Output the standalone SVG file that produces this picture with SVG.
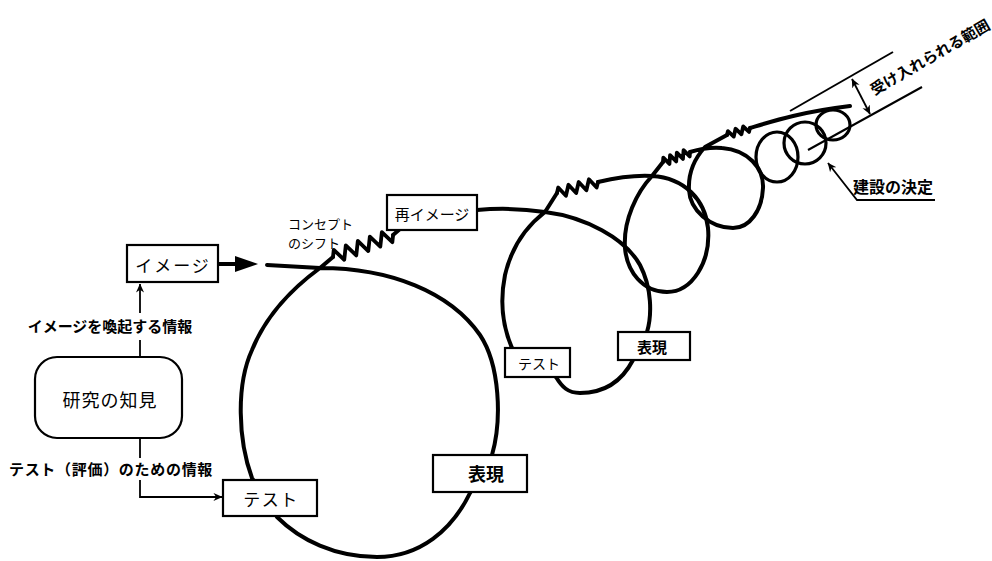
<svg xmlns="http://www.w3.org/2000/svg" width="992" height="561" viewBox="0 0 992 561">
<style>
.loop{fill:none;stroke:#000;stroke-width:4;stroke-linecap:round;stroke-linejoin:round}
.loopsm{fill:none;stroke:#000;stroke-width:3.2;stroke-linecap:round}
.spring{fill:none;stroke:#000;stroke-width:3.8;stroke-linejoin:round;stroke-linecap:round}
.box{fill:#fff;stroke:#000;stroke-width:2.2}
.thin{fill:none;stroke:#000;stroke-width:1.8}
text{font-family:"Noto Sans CJK JP","Noto Sans CJK SC",sans-serif;fill:#000;dominant-baseline:central}
.b{font-weight:700}
.c{text-anchor:middle}
</style>
<defs>
<marker id="ah" viewBox="0 0 10 10" refX="9.5" refY="5" markerWidth="9" markerHeight="9" markerUnits="userSpaceOnUse" orient="auto-start-reverse">
<path d="M0,0.5 L10,5 L0,9.5 L3,5 z" fill="#000"/>
</marker>
</defs>

<g id="coil">
<path class="loop" d="M267,265 L320,268 C390,268 450,292 480,335 C500,365 502,420 492,455 L470,493 C452,530 420,557 377,557 C335,557 300,540 277,517 L252,478 C238,440 236,385 252,350 C265,318 290,290 320,268 L333,257"/>
<path class="spring" transform="translate(333,257) rotate(-20.1)" d="M0,0 L3.2,-6.5 L9.6,6.5 L16,-6.5 L22.4,6.5 L28.8,-6.5 L35.2,6.5 L41.6,-6.5 L48,6.5 L54.4,-6.5 L60.8,6.5 L64,0"/>
<path class="loop" d="M393,235 L400,229"/>
<path class="loop" d="M477,210 C500,208 525,209 545,212 C585,217 625,238 640,265 C652,288 652,315 647,332 L633,360 C620,385 600,393 580,393 C568,393 562,387 556,377 L512,348 C502,325 500,300 505,275 C512,245 528,225 545,212 L557,193"/>
<path class="spring" transform="translate(557,193) rotate(-15)" d="M0,0 L2.6,-5 L7.9,5 L13.2,-5 L18.5,5 L23.8,-5 L29.1,5 L34.4,-5 L39.7,5 L42.5,0"/>
<path class="loop" d="M598,182 C615,178 635,175 652,176 C685,178 705,200 708,228 C711,262 692,292 667,292 C643,292 627,272 625,248 C623,220 637,192 652,176 L663,162"/>
<path class="spring" transform="translate(663,162) rotate(-20.3)" d="M0,0 L1.8,-4 L5.4,4 L9,-4 L12.6,4 L16.2,-4 L19.8,4 L23.4,-4 L27,4 L28.8,0"/>
<path class="loop" d="M690,152 C700,149 712,147 722,148 C748,150 764,168 763,188 C762,210 750,228 733,228 C710,228 690,210 689,190 C688,172 695,158 705,147 L727,135"/>
<path class="spring" transform="translate(727,135) rotate(-17)" d="M0,0 L2,-3.5 L6,3.5 L10,-3.5 L14,3.5 L18,-3.5 L22,3.5 L24,0"/>
<path class="loop" d="M750,128 C770,122 800,112 850,106"/>
<ellipse class="loopsm" cx="777" cy="157" rx="21" ry="25"/>
<ellipse class="loopsm" cx="805" cy="143" rx="21" ry="21"/>
<ellipse class="loopsm" cx="833" cy="125" rx="17" ry="15"/>
<line x1="790" y1="111" x2="893" y2="52" stroke="#000" stroke-width="2"/>
<line x1="808" y1="150" x2="922" y2="87" stroke="#000" stroke-width="2"/>
</g>

<g id="connectors">
<line x1="218" y1="264" x2="238" y2="264" stroke="#000" stroke-width="4"/>
<path d="M235,256 L258,264 L235,272 z" fill="#000"/>
<line class="thin" x1="140" y1="357" x2="140" y2="340"/>
<line class="thin" x1="140" y1="313" x2="140" y2="284" marker-end="url(#ah)"/>
<line class="thin" x1="140" y1="438" x2="140" y2="458"/>
<path class="thin" d="M140,480 L140,497 L222,497" marker-end="url(#ah)"/>
<line class="thin" x1="852" y1="79" x2="870" y2="114" marker-start="url(#ah)" marker-end="url(#ah)"/>
<path class="thin" d="M935,200 L857,200 L828,163" marker-end="url(#ah)"/>
</g>

<g id="image">
<rect class="box" x="127" y="245" width="91" height="37"/>
<text class="c" x="173" y="264" font-size="17" letter-spacing="2">イメージ</text>
</g>
<g id="knowledge">
<rect class="box" x="35" y="357" width="147" height="81" rx="22"/>
<text class="c" x="110" y="399" font-size="18" letter-spacing="1">研究の知見</text>
</g>
<g id="test1">
<rect class="box" x="223" y="480" width="94" height="36"/>
<text class="c" x="271" y="498" font-size="17" letter-spacing="1.5">テスト</text>
</g>
<g id="expr1">
<rect class="box" x="433" y="455" width="94" height="37"/>
<text class="c b" x="486" y="473" font-size="18">表現</text>
</g>
<g id="reimage">
<rect class="box" x="387" y="195" width="90" height="35"/>
<text class="c" x="432" y="213" font-size="15">再イメージ</text>
</g>
<g id="test2">
<rect class="box" x="505" y="348" width="65" height="29"/>
<text class="c" x="539" y="363" font-size="14">テスト</text>
</g>
<g id="expr2">
<rect class="box" x="618" y="332" width="72" height="28"/>
<text class="c b" x="652" y="346" font-size="15">表現</text>
</g>

<g id="labels">
<text class="c b" x="110" y="325" font-size="15">イメージを喚起する情報</text>
<text class="c b" x="111" y="468" font-size="15" letter-spacing="0.7">テスト（評価）のための情報</text>
<text x="288" y="223" font-size="13">コンセプト</text>
<text x="288" y="242" font-size="13">のシフト</text>
<text class="b" x="853" y="186" font-size="16">建設の決定</text>
<text class="b" transform="translate(871,90) rotate(-30)" x="0" y="0" font-size="15">受け入れられる範囲</text>
</g>
</svg>
